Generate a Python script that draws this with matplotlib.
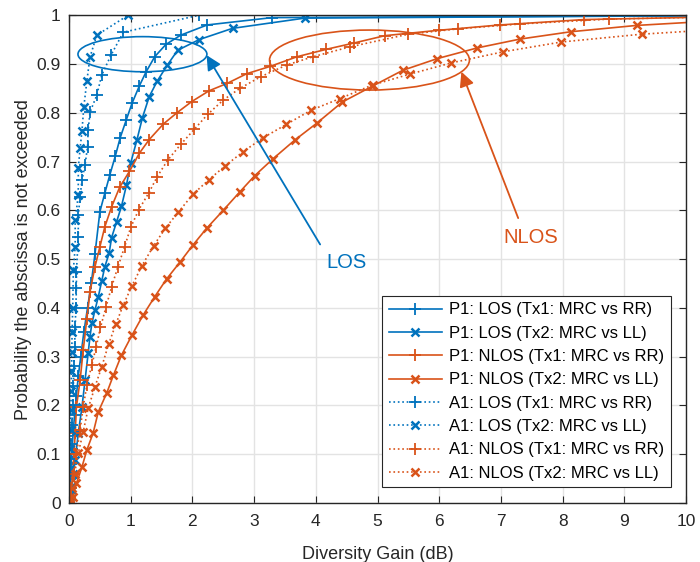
import matplotlib
matplotlib.use("Agg")
import matplotlib.pyplot as plt
from matplotlib.patches import Ellipse

plt.rcParams['font.family'] = ['Liberation Sans', 'DejaVu Sans']

BLUE = '#0072BD'
ORANGE = '#D95319'

# ---------------- data ----------------
p1_los_tx1_x = [0.0, 0.01, 0.02, 0.03, 0.05, 0.07, 0.09, 0.12, 0.15, 0.19, 0.24, 0.30, 0.36, 0.42,
                0.50, 0.58, 0.66, 0.75, 0.83, 0.93, 1.02, 1.14, 1.25, 1.39, 1.57, 1.81, 2.24, 3.29, 10.3]
p1_los_tx1_y = [0.0, 0.02, 0.05, 0.08, 0.11, 0.15, 0.18, 0.22, 0.26, 0.30, 0.35, 0.40, 0.45, 0.51,
                0.597, 0.635, 0.672, 0.711, 0.749, 0.786, 0.819, 0.855, 0.884, 0.915, 0.940, 0.959, 0.980, 0.995, 0.999]

p1_los_tx2_x = [0.0, 0.02, 0.04, 0.07, 0.10, 0.15, 0.21, 0.26, 0.31, 0.34, 0.37, 0.42, 0.475, 0.53,
                0.58, 0.65, 0.69, 0.77, 0.85, 0.93, 1.00, 1.10, 1.19, 1.30, 1.43, 1.59, 1.76, 2.11, 2.65, 3.82, 10.3]
p1_los_tx2_y = [0.0, 0.015, 0.033, 0.06, 0.088, 0.143, 0.197, 0.252, 0.307, 0.341, 0.368, 0.395, 0.423, 0.455,
                0.484, 0.512, 0.544, 0.576, 0.608, 0.651, 0.697, 0.744, 0.790, 0.833, 0.865, 0.897, 0.928, 0.950, 0.973, 0.994, 0.999]

p1_nlos_tx1_x = [0.0, 0.02, 0.04, 0.06, 0.08, 0.10, 0.12, 0.18, 0.23, 0.29, 0.34, 0.42, 0.50, 0.58,
                 0.69, 0.82, 0.98, 1.14, 1.30, 1.53, 1.75, 1.99, 2.27, 2.56, 2.88, 3.26, 3.70, 4.17,
                 4.62, 5.12, 5.99, 6.99, 8.35, 10.3]
p1_nlos_tx1_y = [0.0, 0.01, 0.03, 0.06, 0.10, 0.143, 0.197, 0.252, 0.313, 0.378, 0.433, 0.484, 0.525, 0.566,
                 0.607, 0.647, 0.680, 0.717, 0.745, 0.777, 0.800, 0.823, 0.845, 0.860, 0.880, 0.895, 0.915, 0.930,
                 0.943, 0.958, 0.969, 0.980, 0.991, 0.996]

p1_nlos_tx2_x = [0.0, 0.02, 0.06, 0.12, 0.21, 0.29, 0.39, 0.475, 0.61, 0.72, 0.85, 1.02, 1.20, 1.39,
                 1.58, 1.80, 2.01, 2.23, 2.50, 2.77, 3.01, 3.31, 3.66, 4.02, 4.43, 4.91, 5.41, 5.97,
                 6.62, 7.31, 8.13, 9.20, 10.3]
p1_nlos_tx2_y = [0.0, 0.003, 0.013, 0.040, 0.074, 0.109, 0.143, 0.187, 0.225, 0.262, 0.303, 0.344, 0.385, 0.423,
                 0.459, 0.494, 0.529, 0.563, 0.600, 0.638, 0.671, 0.706, 0.744, 0.779, 0.822, 0.854, 0.887, 0.911,
                 0.933, 0.951, 0.966, 0.979, 0.987]

a1_los_tx1_x = [0.0, 0.01, 0.02, 0.03, 0.04, 0.05, 0.06, 0.07, 0.08, 0.09, 0.10, 0.11, 0.12, 0.12,
                0.15, 0.15, 0.18, 0.21, 0.26, 0.30, 0.31, 0.34, 0.45, 0.53, 0.68, 0.88, 2.11]
a1_los_tx1_y = [0.0, 0.03, 0.06, 0.09, 0.12, 0.16, 0.20, 0.24, 0.28, 0.32, 0.36, 0.40, 0.44, 0.474,
                0.546, 0.590, 0.628, 0.662, 0.693, 0.730, 0.764, 0.801, 0.836, 0.877, 0.918, 0.965, 1.0]

a1_los_tx2_x = [0.0, 0.01, 0.015, 0.02, 0.025, 0.03, 0.035, 0.04, 0.045, 0.05, 0.06, 0.07, 0.10,
                0.10, 0.15, 0.15, 0.18, 0.21, 0.24, 0.29, 0.34, 0.45, 0.96]
a1_los_tx2_y = [0.0, 0.03, 0.07, 0.11, 0.15, 0.19, 0.23, 0.27, 0.31, 0.35, 0.40, 0.477, 0.525,
                0.580, 0.631, 0.686, 0.727, 0.763, 0.812, 0.866, 0.914, 0.959, 1.0]

a1_nlos_tx1_x = [0.0, 0.02, 0.04, 0.08, 0.12, 0.18, 0.23, 0.29, 0.37, 0.44, 0.51, 0.60, 0.69, 0.79,
                 0.90, 1.00, 1.13, 1.29, 1.43, 1.60, 1.81, 2.03, 2.25, 2.50, 2.77, 3.11, 3.53, 3.96,
                 4.55, 5.50, 6.31, 7.31, 8.76, 10.3]
a1_nlos_tx1_y = [0.0, 0.015, 0.03, 0.06, 0.10, 0.150, 0.197, 0.242, 0.283, 0.320, 0.360, 0.402, 0.443, 0.483,
                 0.525, 0.565, 0.601, 0.635, 0.669, 0.703, 0.735, 0.766, 0.797, 0.826, 0.850, 0.874, 0.898, 0.915,
                 0.935, 0.961, 0.972, 0.982, 0.992, 0.996]

a1_nlos_tx2_x = [0.0, 0.02, 0.05, 0.09, 0.15, 0.23, 0.31, 0.42, 0.53, 0.64, 0.76, 0.88, 1.02, 1.18,
                 1.37, 1.56, 1.77, 2.01, 2.27, 2.53, 2.82, 3.15, 3.52, 3.92, 4.39, 4.92, 5.52, 6.19,
                 7.04, 7.98, 9.28, 10.3]
a1_nlos_tx2_y = [0.0, 0.01, 0.03, 0.06, 0.102, 0.146, 0.194, 0.238, 0.279, 0.325, 0.367, 0.406, 0.445, 0.486,
                 0.527, 0.563, 0.596, 0.633, 0.663, 0.691, 0.720, 0.749, 0.776, 0.805, 0.829, 0.857, 0.879, 0.902,
                 0.925, 0.945, 0.961, 0.969]

labels = ['P1: LOS (Tx1: MRC vs RR)', 'P1: LOS (Tx2: MRC vs LL)',
          'P1: NLOS (Tx1: MRC vs RR)', 'P1: NLOS (Tx2: MRC vs LL)',
          'A1: LOS (Tx1: MRC vs RR)', 'A1: LOS (Tx2: MRC vs LL)',
          'A1: NLOS (Tx1: MRC vs RR)', 'A1: NLOS (Tx2: MRC vs LL)']

x_ticks = [0, 1, 2, 3, 4, 5, 6, 7, 8, 9, 10]
y_ticks = [0, 0.1, 0.2, 0.3, 0.4, 0.5, 0.6, 0.7, 0.8, 0.9, 1]
y_ticklabels = ['0', '0.1', '0.2', '0.3', '0.4', '0.5', '0.6', '0.7', '0.8', '0.9', '1']

# ---------------- figure ----------------
fig = plt.figure(figsize=(7.0, 5.62), dpi=100)
ax = fig.add_axes([0.0986, 0.105, 0.8814, 0.868])

series = [
    (p1_los_tx1_x, p1_los_tx1_y, BLUE, '-', '+'),
    (p1_los_tx2_x, p1_los_tx2_y, BLUE, '-', 'x'),
    (p1_nlos_tx1_x, p1_nlos_tx1_y, ORANGE, '-', '+'),
    (p1_nlos_tx2_x, p1_nlos_tx2_y, ORANGE, '-', 'x'),
    (a1_los_tx1_x, a1_los_tx1_y, BLUE, ':', '+'),
    (a1_los_tx2_x, a1_los_tx2_y, BLUE, ':', 'x'),
    (a1_nlos_tx1_x, a1_nlos_tx1_y, ORANGE, ':', '+'),
    (a1_nlos_tx2_x, a1_nlos_tx2_y, ORANGE, ':', 'x'),
]

for (xs, ys, col, ls, mk), lab in zip(series, labels):
    ms = 9 if mk == '+' else 6
    ax.plot(xs, ys, color=col, linestyle=ls, marker=mk, markersize=ms,
            markeredgewidth=1.3 if mk == '+' else 1.8, linewidth=1.2, label=lab)

ax.set_xlim(0, 10)
ax.set_ylim(0, 1)
ax.set_xticks(x_ticks)
ax.set_yticks(y_ticks)
ax.set_yticklabels(y_ticklabels)
ax.grid(True, color='#e3e3e3', linewidth=1.0)
ax.set_axisbelow(True)
ax.tick_params(direction='in', top=True, right=True, labelsize=12.5, colors='#262626',
               length=5, width=0.8)
ax.tick_params(axis='x', pad=8)
ax.tick_params(axis='y', pad=6)
for s in ax.spines.values():
    s.set_color('#262626')
    s.set_linewidth(1.0)

ax.set_xlabel('Diversity Gain (dB)', fontsize=13, color='#262626', labelpad=12)
ax.set_ylabel('Probability the abscissa is not exceeded', fontsize=13, color='#262626', labelpad=3)

# Annotations
ax.add_patch(Ellipse((1.19, 0.920), 2.09, 0.072, fill=False, edgecolor=BLUE, linewidth=1.2, zorder=5))
ax.add_patch(Ellipse((4.87, 0.908), 3.24, 0.123, fill=False, edgecolor=ORANGE, linewidth=1.2, zorder=5))

ax.annotate('', xy=(2.23, 0.918), xytext=(4.07, 0.530),
            arrowprops=dict(arrowstyle='-|>', color=BLUE, lw=1.3, mutation_scale=22,
                            shrinkA=0, shrinkB=0), zorder=6)
ax.annotate('', xy=(6.36, 0.884), xytext=(7.28, 0.584),
            arrowprops=dict(arrowstyle='-|>', color=ORANGE, lw=1.3, mutation_scale=22,
                            shrinkA=0, shrinkB=0), zorder=6)
ax.text(4.49, 0.494, 'LOS', color=BLUE, fontsize=14.5, ha='center', va='center')
ax.text(7.49, 0.545, 'NLOS', color=ORANGE, fontsize=14.5, ha='center', va='center')

leg = ax.legend(loc='lower right', bbox_to_anchor=(0.9885, 0.015), fontsize=12, handlelength=3.2,
                labelspacing=0.5, borderpad=0.4, handletextpad=0.4, fancybox=False,
                framealpha=1.0, edgecolor='#262626')
leg.get_frame().set_linewidth(0.8)

fig.savefig('out.png', dpi=100)
